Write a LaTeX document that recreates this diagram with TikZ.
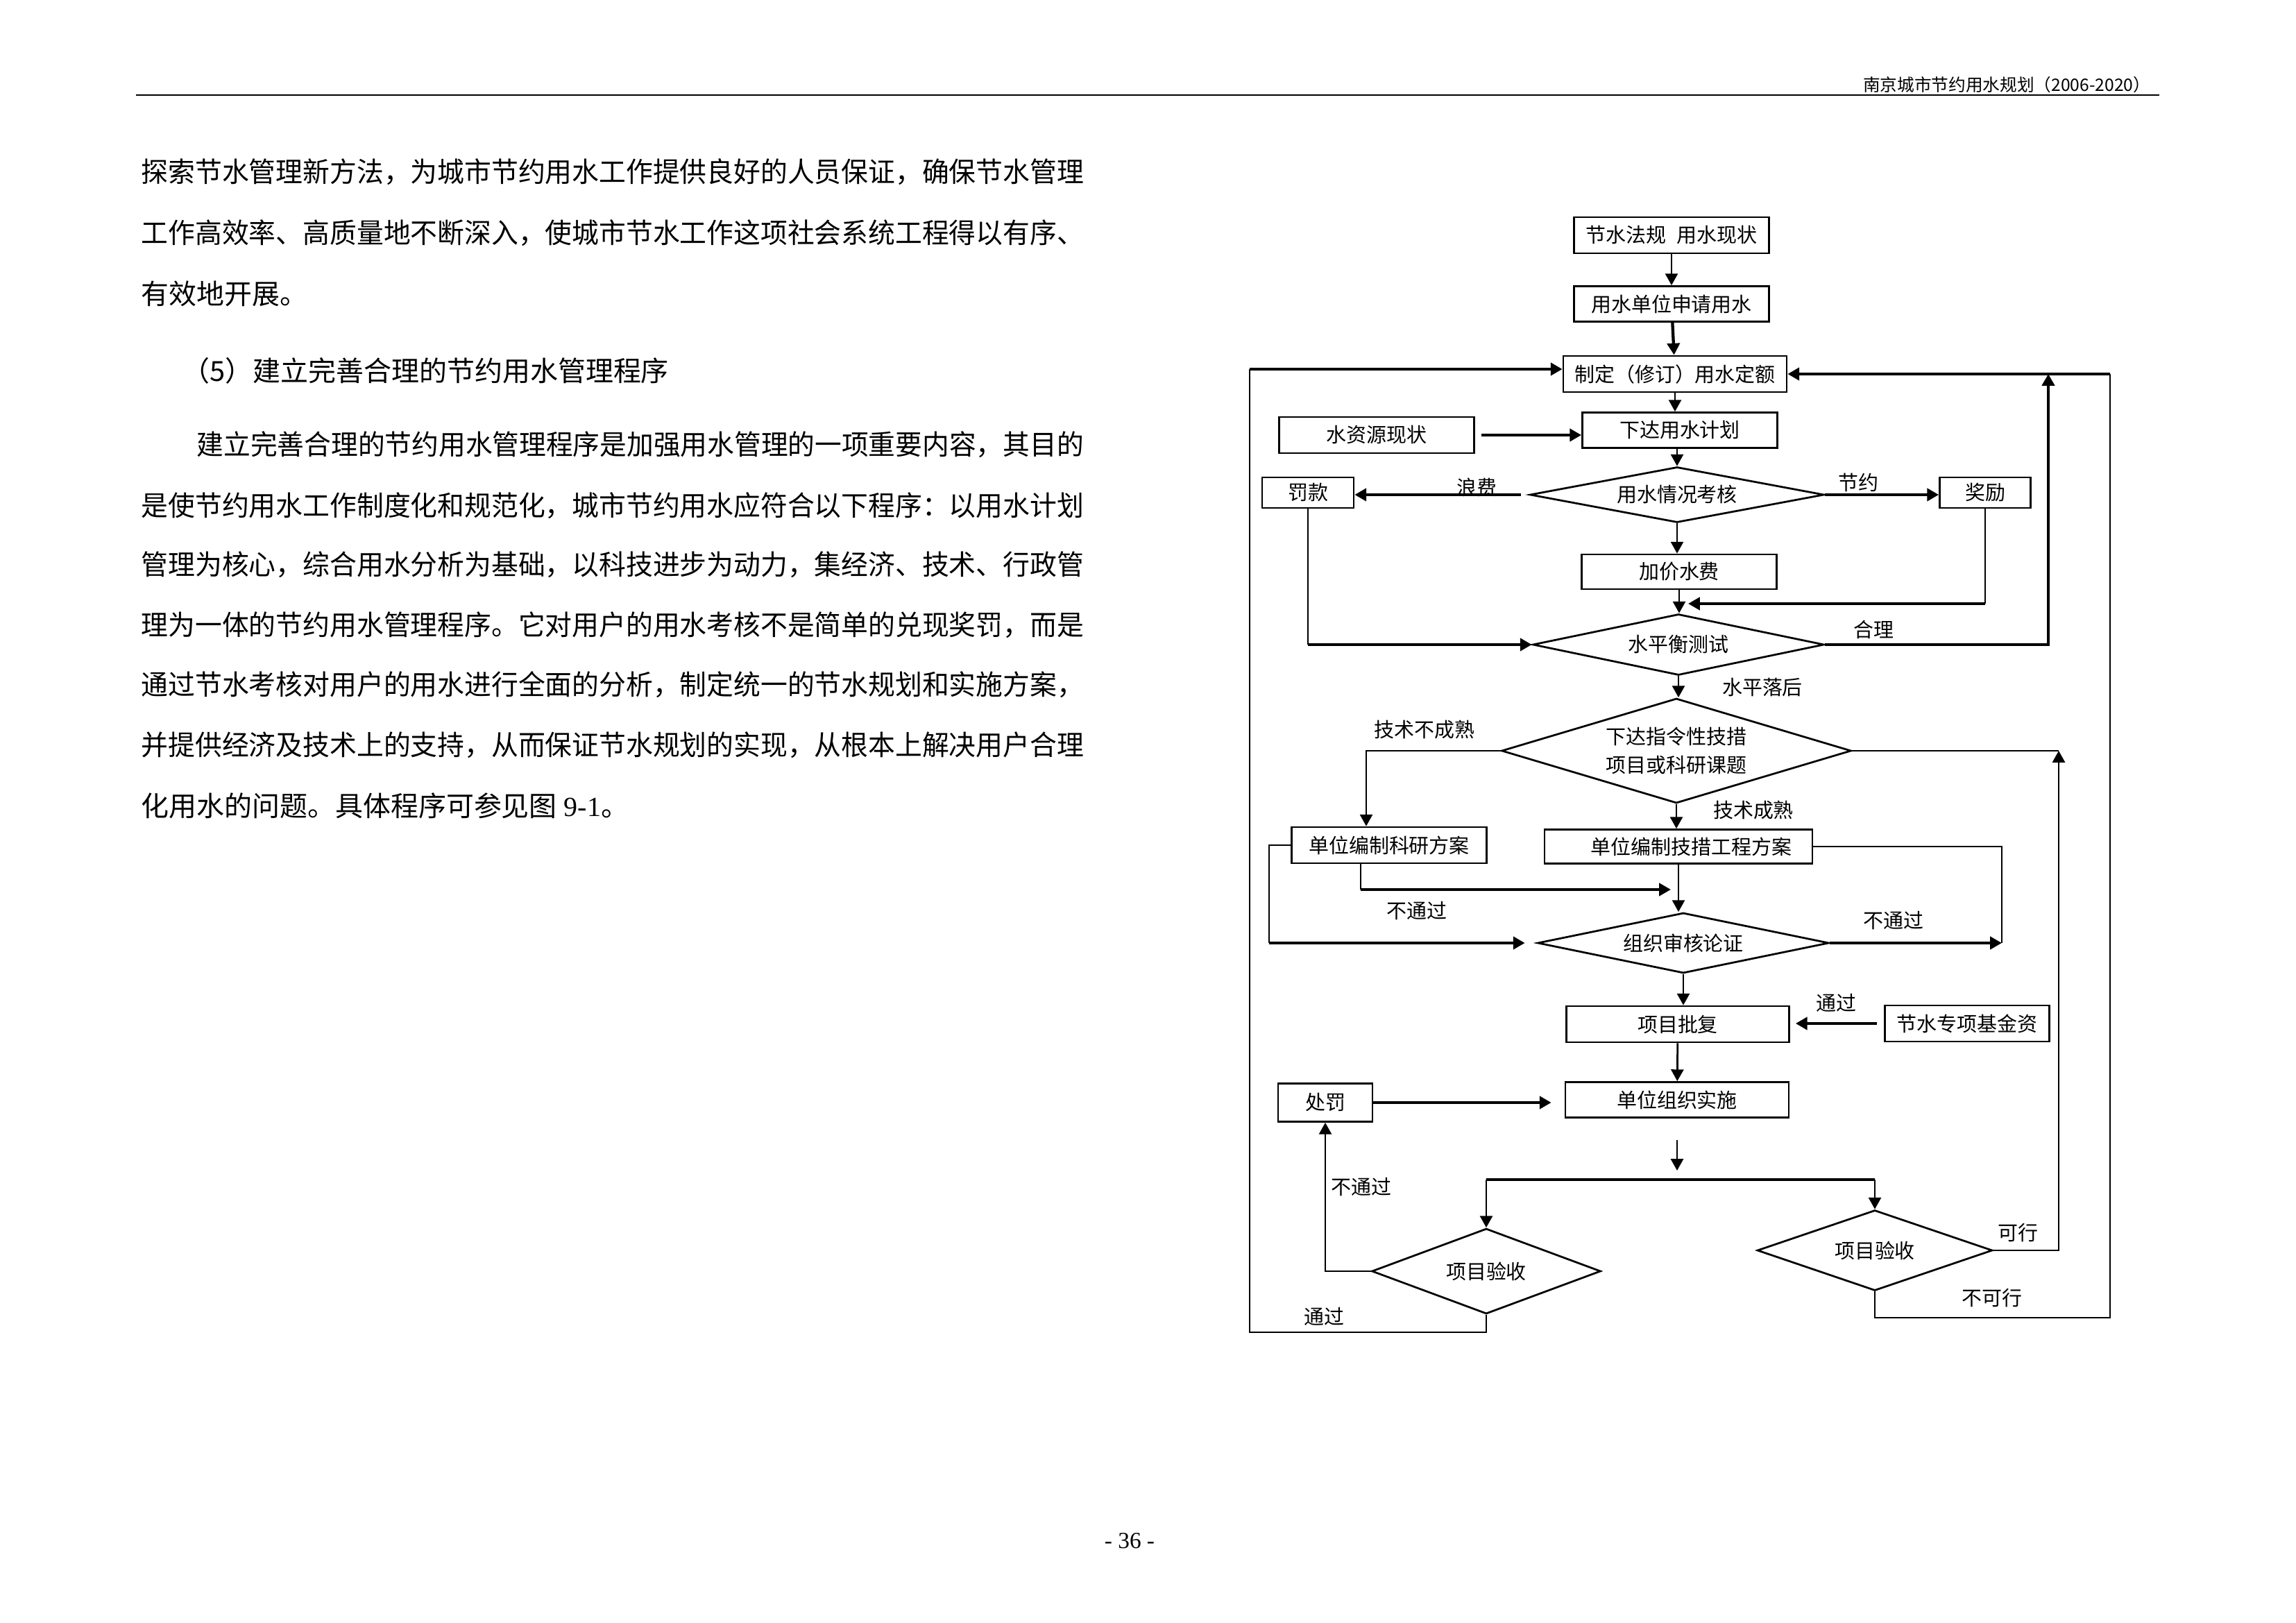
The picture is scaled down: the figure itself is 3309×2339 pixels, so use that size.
\documentclass[tikz,border=0pt]{standalone}
\usepackage{graphicx}
\usepackage{fontspec}
\setmainfont{Noto Sans CJK SC}
\newfontfamily\latinfont{Liberation Serif}
\usetikzlibrary{shapes.geometric,arrows.meta}
\newdimen\pxl
\pxl=0.08976mm
\newcommand{\fitline}[2]{\resizebox{#1\pxl}{\height}{#2}}
\tikzset{
  box/.style={draw,line width=0.7pt,inner sep=0pt,font=\fontsize{7.4pt}{9pt}\selectfont},
  choice/.style={draw,diamond,aspect=4,line width=0.7pt,inner sep=0pt,align=center,
    font=\fontsize{7.4pt}{10.7pt}\selectfont},
  lbl/.style={inner sep=0pt,font=\fontsize{7.4pt}{9pt}\selectfont},
  body/.style={anchor=west,inner sep=0pt,font=\fontsize{10.2pt}{12pt}\selectfont},
  ln/.style={line width=0.7pt},
  tk/.style={line width=1.1pt},
  >={Triangle[length=4.3pt,width=4.6pt]}
}
\begin{document}
\begin{tikzpicture}[x=0.08976mm,y=-0.08976mm]
  \path[use as bounding box,fill=white] (0,0) rectangle (3309,2339);

  %Header
  \node[anchor=east,inner sep=0pt,font=\fontsize{6.3pt}{7pt}\selectfont] (head) at (3100,122) {南京城市节约用水规划（2006-2020）};
  \draw[line width=0.7pt] (196,137) -- (3112,137);

  %Text
  \node[body] (line1) at (203,248) {\fitline{1358}{探索节水管理新方法，为城市节约用水工作提供良好的人员保证，确保节水管理}};
  \node[body] (line2) at (203,336) {\fitline{1358}{工作高效率、高质量地不断深入，使城市节水工作这项社会系统工程得以有序、}};
  \node[body] (line3) at (203,423) {有效地开展。};
  \node[body] (heading) at (262,534) {（5）建立完善合理的节约用水管理程序};
  \node[body] (para1) at (283,641) {\fitline{1278}{建立完善合理的节约用水管理程序是加强用水管理的一项重要内容，其目的}};
  \node[body] (para2) at (203,729) {\fitline{1358}{是使节约用水工作制度化和规范化，城市节约用水应符合以下程序：以用水计划}};
  \node[body] (para3) at (203,814) {\fitline{1358}{管理为核心，综合用水分析为基础，以科技进步为动力，集经济、技术、行政管}};
  \node[body] (para4) at (203,901) {\fitline{1358}{理为一体的节约用水管理程序。它对用户的用水考核不是简单的兑现奖罚，而是}};
  \node[body] (para5) at (203,987) {\fitline{1358}{通过节水考核对用户的用水进行全面的分析，制定统一的节水规划和实施方案，}};
  \node[body] (para6) at (203,1074) {\fitline{1358}{并提供经济及技术上的支持，从而保证节水规划的实现，从根本上解决用户合理}};
  \node[body] (para7) at (203,1161) {化用水的问题。具体程序可参见图{\latinfont\ 9-1}。};

  %Page number
  \node[inner sep=0pt,font=\latinfont\fontsize{8.5pt}{10pt}\selectfont] (pageno) at (1628,2221) {- 36 -};

  %Boxes
  \node[box,minimum width=281*\pxl,minimum height=52*\pxl] (law) at (2409,339) {节水法规\hspace{0.5em}用水现状};
  \node[box,minimum width=281*\pxl,minimum height=51*\pxl] (apply) at (2409,438) {用水单位申请用水};
  \node[box,minimum width=322*\pxl,minimum height=52*\pxl] (quota) at (2414,539) {制定（修订）用水定额};
  \node[box,minimum width=281*\pxl,minimum height=51*\pxl] (plan) at (2421,620) {下达用水计划};
  \node[box,minimum width=281*\pxl,minimum height=52*\pxl] (source) at (1984,627) {水资源现状};
  \node[box,minimum width=132*\pxl,minimum height=44*\pxl] (fine) at (1885,710) {罚款};
  \node[box,minimum width=131*\pxl,minimum height=44*\pxl] (reward) at (2861,710) {奖励};
  \node[box,minimum width=281*\pxl,minimum height=50*\pxl] (surcharge) at (2420,824) {加价水费};
  \node[box,minimum width=281*\pxl,minimum height=52*\pxl] (research) at (2002,1218) {单位编制科研方案};
  \node[box,minimum width=386*\pxl,minimum height=49*\pxl] (tech) at (2419,1220) {\hspace{1.3em}单位编制技措工程方案};
  \node[box,minimum width=321*\pxl,minimum height=52*\pxl] (approve) at (2418,1476) {项目批复};
  \node[box,minimum width=237*\pxl,minimum height=52*\pxl] (fund) at (2835,1475) {节水专项基金资};
  \node[box,minimum width=322*\pxl,minimum height=51*\pxl] (implement) at (2417,1585) {单位组织实施};
  \node[box,minimum width=136*\pxl,minimum height=55*\pxl] (penalty) at (1910,1589) {处罚};

  %Decisions
  \node[choice,minimum width=424*\pxl,minimum height=80*\pxl] (check) at (2417,713) {用水情况考核};
  \node[choice,minimum width=420*\pxl,minimum height=88*\pxl] (balance) at (2419,929) {水平衡测试};
  \node[choice,minimum width=504*\pxl,minimum height=151*\pxl] (order) at (2416,1082) {下达指令性技措\\项目或科研课题};
  \node[choice,minimum width=420*\pxl,minimum height=87*\pxl] (review) at (2426,1359) {组织审核论证};
  \node[choice,minimum width=330*\pxl,minimum height=123*\pxl] (acceptL) at (2142,1832) {项目验收};
  \node[choice,minimum width=339*\pxl,minimum height=116*\pxl] (acceptR) at (2702,1802) {项目验收};

  %Labels
  \node[lbl] (wasteT) at (2128,702) {浪费};
  \node[lbl] (saveT) at (2678,695) {节约};
  \node[lbl] (okT) at (2700,907) {合理};
  \node[lbl] (lagT) at (2540,991) {水平落后};
  \node[lbl] (immatureT) at (2053,1052) {技术不成熟};
  \node[lbl] (matureT) at (2527,1168) {技术成熟};
  \node[lbl] (failT) at (2042,1313) {不通过};
  \node[lbl] (fail2T) at (2729,1327) {不通过};
  \node[lbl] (passT) at (2646,1445) {通过};
  \node[lbl] (fail3T) at (1962,1710) {不通过};
  \node[lbl] (pass2T) at (1908,1897) {通过};
  \node[lbl] (feasT) at (2908,1777) {可行};
  \node[lbl] (infeasT) at (2871,1871) {不可行};

  %Coordinates
  \coordinate (rewardin) at (2433,870);
  \coordinate (loopR) at (2952,539);
  \coordinate (rtop) at (3041,539);
  \coordinate (rbot) at (3041,1899);
  \coordinate (ordL) at (1969,1082);
  \coordinate (ordR) at (2967,1082);
  \coordinate (leftX) at (1829,1359);
  \coordinate (failA) at (1961,1282);
  \coordinate (failB) at (2408,1282);
  \coordinate (techR) at (2885,1359);
  \coordinate (split) at (2417,1700);
  \coordinate (lbot) at (1801,1920);
  \coordinate (ltop) at (1801,532);

  %Connectors
  \draw[ln,->] (law) -- (apply);
  \draw[tk,->] (apply) -- (quota);
  \draw[ln,->] (quota) -- (quota |- plan.north);
  \draw[tk,->,shorten <=9*\pxl] (source.east) -- (source.east -| plan.west);
  \draw[ln,->] (check.north |- plan.south) -- (check.north);
  \draw[tk,->,shorten <=12*\pxl] (check.west) -- (check.west -| fine.east);
  \draw[tk,->] (check.east) -- (check.east -| reward.west);
  \draw[ln,->] (check.south) -- (check.south |- surcharge.north);
  \draw[ln,->] (surcharge.south) -- (surcharge.south |- balance.north);
  \draw[ln] (reward.south) -- (reward.south |- rewardin);
  \draw[tk,->] (reward.south |- rewardin) -- (rewardin);
  \draw[ln] (fine.south) -- (fine.south |- balance.west);
  \draw[tk,->] (fine.south |- balance.west) -- (balance.west);
  \draw[tk,->] (balance.east) -| (loopR);
  \draw[tk,->] (rtop) -- (quota.east);
  \draw[ln] (acceptR.south) |- (rbot) -- (rtop);
  \draw[ln,->] (balance.south) -- (balance.south |- order.north);
  \draw[ln,->] (order.west) -- (ordL) -- (ordL |- research.north);
  \draw[ln] (order.east) -- (ordR);
  \draw[ln,->] (acceptR.east) -| (ordR);
  \draw[ln,->] (order.south) -- (order.south |- tech.north);
  \draw[ln] (research.west) -| (leftX);
  \draw[tk,->,shorten >=17*\pxl] (leftX) -- (review.west);
  \draw[ln] (failA |- research.south) -- (failA);
  \draw[tk,->] (failA) -- (failB);
  \draw[ln,->] (tech.south) -- (tech.south |- review.north);
  \draw[ln] (tech.east) -| (techR);
  \draw[tk,->] (review.east) -- (techR);
  \draw[ln,->] (review.south) -- (review.south |- approve.north);
  \draw[tk,->,shorten <=10*\pxl,shorten >=8*\pxl] (fund.west) -- (fund.west -| approve.east);
  \draw[ln,->] (approve) -- (implement);
  \draw[tk,->,shorten >=19*\pxl] (penalty.east) -- (penalty.east -| implement.west);
  \draw[ln,->,shorten <=31*\pxl,shorten >=13*\pxl] (implement.south) -- (split);
  \draw[tk] (acceptL.north |- split) -- (acceptR.north |- split);
  \draw[ln,->] (acceptL.north |- split) -- (acceptL.north);
  \draw[ln,->] (acceptR.north |- split) -- (acceptR.north);
  \draw[ln,->] (acceptL.west) -| (penalty.south);
  \draw[ln] (acceptL.south) |- (lbot) -- (ltop);
  \draw[tk,->] (ltop) -- (ltop -| quota.west);
\end{tikzpicture}
\end{document}
